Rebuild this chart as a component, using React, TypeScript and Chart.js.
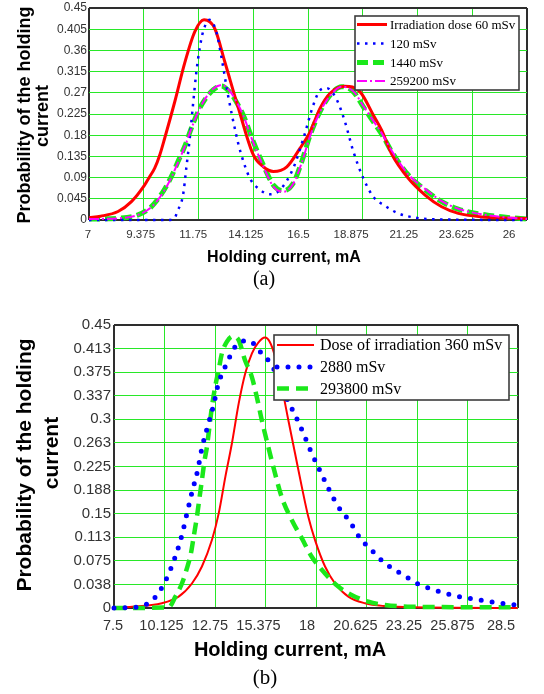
import React, { useEffect, useRef } from 'react';
import { Chart, registerables } from 'chart.js';

Chart.register(...registerables);

const SANS = "'Liberation Sans', Arial, Helvetica, sans-serif";
const SERIF = "'Liberation Serif', 'Times New Roman', serif";
const GRID = 'rgb(40,232,40)';
const FRAME = '#2e2e2e';
const TICK = '#333333';

// ---------------- Chart (a) ----------------
const aXTicks = [7, 9.375, 11.75, 14.125, 16.5, 18.875, 21.25, 23.625, 26];
const aXTickLabels = ['7', '9.375', '11.75', '14.125', '16.5', '18.875', '21.25', '23.625', '26'];
const aYTicks = [0, 0.045, 0.09, 0.135, 0.18, 0.225, 0.27, 0.315, 0.36, 0.405, 0.45];
const aYTickLabels = ['0', '0.045', '0.09', '0.135', '0.18', '0.225', '0.27', '0.315', '0.36', '0.405', '0.45'];
const aLegend = ['Irradiation dose 60 mSv', '120 mSv', '1440 mSv', '259200 mSv'];

const a60X = [7, 7.5, 8.26, 8.84, 9.41, 9.63, 9.85, 10.07, 10.28, 10.72, 11.15, 11.59, 11.99, 12.45, 12.89, 13.46, 14.13, 14.56, 15.0, 15.58, 16.15, 16.59, 17.02, 17.46, 18.1, 18.76, 19.33, 19.7, 20.13, 20.85, 21.58, 22.3, 23.02, 24.18, 25.6, 26];
const a60Y = [0.005, 0.008, 0.018, 0.039, 0.074, 0.092, 0.11, 0.138, 0.173, 0.251, 0.333, 0.4, 0.425, 0.407, 0.336, 0.241, 0.138, 0.113, 0.103, 0.113, 0.152, 0.187, 0.237, 0.269, 0.284, 0.272, 0.223, 0.19, 0.14, 0.0885, 0.053, 0.028, 0.014, 0.006, 0.0035, 0.003];

const a120X = [7, 10.4, 10.7, 10.83, 11.08, 11.22, 11.37, 11.51, 11.66, 11.8, 11.95, 12.23, 12.52, 12.74, 13.03, 13.39, 13.55, 13.98, 14.42, 14.85, 15.29, 15.86, 16.3, 16.73, 17.0, 17.31, 17.75, 18.1, 18.47, 18.9, 19.33, 19.84, 20.42, 21.29, 22.5, 26];
const a120Y = [0, 0, 0.003, 0.018, 0.053, 0.11, 0.173, 0.244, 0.315, 0.364, 0.4, 0.425, 0.4, 0.347, 0.265, 0.18, 0.148, 0.0885, 0.064, 0.0545, 0.064, 0.11, 0.173, 0.244, 0.274, 0.28, 0.255, 0.209, 0.145, 0.0885, 0.0495, 0.03, 0.014, 0.004, 0.001, 0];

const a1440X = [7, 8.4, 9.13, 9.7, 10.21, 10.57, 10.86, 11.15, 11.44, 11.73, 12.02, 12.38, 12.74, 13.1, 13.4, 13.69, 14.13, 14.56, 15.0, 15.43, 15.86, 16.23, 16.59, 17.02, 17.46, 17.96, 18.47, 18.9, 19.41, 19.75, 20.13, 20.85, 21.58, 22.3, 23.02, 24.18, 25.6, 26];
const a1440Y = [0.002, 0.004, 0.011, 0.028, 0.06, 0.092, 0.124, 0.156, 0.195, 0.23, 0.255, 0.276, 0.2845, 0.272, 0.25, 0.223, 0.166, 0.117, 0.074, 0.062, 0.078, 0.124, 0.18, 0.23, 0.265, 0.283, 0.272, 0.24, 0.203, 0.178, 0.145, 0.0955, 0.064, 0.039, 0.023, 0.011, 0.0035, 0.002];

const a259X = [7, 8.4, 9.13, 9.7, 10.21, 10.57, 10.86, 11.15, 11.44, 11.73, 12.02, 12.38, 12.78, 13.1, 13.4, 13.69, 14.13, 14.56, 15.0, 15.45, 15.86, 16.23, 16.59, 17.02, 17.46, 17.96, 18.47, 18.9, 19.41, 19.75, 20.13, 20.85, 21.58, 22.3, 23.02, 24.18, 25.6, 26];
const a259Y = [0.002, 0.004, 0.011, 0.027, 0.058, 0.09, 0.122, 0.155, 0.194, 0.229, 0.256, 0.278, 0.2865, 0.274, 0.251, 0.222, 0.164, 0.114, 0.071, 0.06, 0.077, 0.122, 0.178, 0.229, 0.264, 0.283, 0.273, 0.242, 0.205, 0.18, 0.147, 0.097, 0.066, 0.04, 0.024, 0.011, 0.0035, 0.002];

// ---------------- Chart (b) ----------------
const bXTicks = [7.5, 10.125, 12.75, 15.375, 18, 20.625, 23.25, 25.875, 28.5];
const bXTickLabels = ['7.5', '10.125', '12.75', '15.375', '18', '20.625', '23.25', '25.875', '28.5'];
const bYTicks = [0, 0.0375, 0.075, 0.1125, 0.15, 0.1875, 0.225, 0.2625, 0.3, 0.3375, 0.375, 0.4125, 0.45];
const bYTickLabels = ['0', '0.038', '0.075', '0.113', '0.15', '0.188', '0.225', '0.263', '0.3', '0.337', '0.375', '0.413', '0.45'];
const bLegend = ['Dose of irradiation 360 mSv', '2880 mSv', '293800 mSv'];

const b360X = [7.5, 8.44, 9.99, 10.86, 11.55, 12.07, 12.59, 12.94, 13.29, 13.63, 13.98, 14.32, 14.67, 15.0, 15.35, 15.6, 15.87, 16.22, 16.56, 16.91, 17.26, 17.6, 17.95, 18.47, 18.99, 19.68, 20.55, 21.59, 23.0, 28.5];
const b360Y = [0.001, 0.002, 0.0075, 0.018, 0.039, 0.066, 0.108, 0.15, 0.209, 0.262, 0.325, 0.373, 0.405, 0.422, 0.43, 0.423, 0.4, 0.352, 0.299, 0.246, 0.193, 0.145, 0.108, 0.066, 0.039, 0.018, 0.0075, 0.003, 0.001, 0];

const b2880X = [7.5, 8.5, 8.96, 9.39, 9.77, 10.25, 10.69, 11.03, 11.29, 11.57, 11.85, 12.07, 12.37, 12.68, 12.91, 13.34, 13.8, 14.12, 14.53, 15.09, 15.61, 16.0, 16.48, 16.91, 17.34, 17.72, 18.21, 18.69, 19.16, 19.77, 20.29, 20.89, 21.59, 22.54, 23.32, 24.27, 25.28, 26.31, 27.35, 28.5];
const b2880Y = [0, 0.001, 0.003, 0.01, 0.022, 0.048, 0.082, 0.116, 0.15, 0.186, 0.219, 0.254, 0.289, 0.323, 0.355, 0.3875, 0.4155, 0.4235, 0.425, 0.4075, 0.39, 0.368, 0.333, 0.307, 0.278, 0.25, 0.218, 0.1875, 0.161, 0.137, 0.111, 0.092, 0.071, 0.0525, 0.038, 0.0275, 0.019, 0.0138, 0.0085, 0.0046];

const b293X = [7.5, 10.34, 10.69, 11.03, 11.29, 11.5, 11.64, 11.81, 11.93, 12.07, 12.21, 12.33, 12.42, 12.59, 12.76, 12.94, 13.11, 13.37, 13.67, 13.98, 14.31, 14.66, 14.92, 15.18, 15.52, 15.87, 16.22, 16.74, 17.26, 17.78, 18.47, 19.16, 19.85, 20.72, 21.59, 23.0, 28.5];
const b293Y = [0, 0.001, 0.018, 0.039, 0.063, 0.087, 0.113, 0.145, 0.172, 0.2035, 0.235, 0.256, 0.278, 0.32, 0.352, 0.3785, 0.405, 0.4235, 0.432, 0.426, 0.394, 0.368, 0.336, 0.299, 0.256, 0.214, 0.176, 0.14, 0.111, 0.0815, 0.055, 0.034, 0.0207, 0.01, 0.0048, 0.002, 0.001];

// --------------------------------------------
const pts = (xs: number[], ys: number[]) => xs.map((x, i) => ({ x, y: ys[i] }));

type TextSpec = { text: string; x: number; y: number; font: string; rotate?: boolean; color?: string };
type LegendSpec = {
  left: number; top: number; right: number; bottom: number;
  rows: number[]; sx0: number; sx1: number; tx: number; font: string;
};

function overlay(id: string, texts: TextSpec[], lg: LegendSpec) {
  return {
    id,
    afterDraw(chart: any) {
      const ctx = chart.ctx as CanvasRenderingContext2D;
      ctx.save();
      ctx.fillStyle = '#ffffff';
      ctx.fillRect(lg.left, lg.top, lg.right - lg.left, lg.bottom - lg.top);
      ctx.strokeStyle = '#3c3c3c';
      ctx.lineWidth = 1.6;
      ctx.setLineDash([]);
      ctx.strokeRect(lg.left, lg.top, lg.right - lg.left, lg.bottom - lg.top);
      chart.data.datasets.forEach((ds: any, i: number) => {
        const y = lg.rows[i];
        ctx.save();
        ctx.beginPath();
        ctx.strokeStyle = ds.borderColor;
        ctx.lineWidth = ds.borderWidth;
        ctx.lineCap = ds.borderCapStyle || 'butt';
        ctx.setLineDash(ds.borderDash || []);
        ctx.moveTo(lg.sx0, y);
        ctx.lineTo(lg.sx1, y);
        ctx.stroke();
        ctx.restore();
        ctx.fillStyle = '#000000';
        ctx.font = lg.font;
        ctx.textAlign = 'left';
        ctx.textBaseline = 'middle';
        ctx.fillText(ds.label, lg.tx, y + 1);
      });
      texts.forEach((t) => {
        ctx.save();
        ctx.fillStyle = t.color || '#000000';
        ctx.font = t.font;
        ctx.textAlign = 'center';
        ctx.textBaseline = 'middle';
        ctx.translate(t.x, t.y);
        if (t.rotate) ctx.rotate(-Math.PI / 2);
        ctx.fillText(t.text, 0, 0);
        ctx.restore();
      });
      ctx.restore();
    },
  };
}

function frameGrid(n: number) {
  return {
    drawTicks: false,
    color: (c: any) => (c.index === 0 || c.index === n - 1 ? FRAME : GRID),
    lineWidth: (c: any) => (c.index === 0 || c.index === n - 1 ? 2 : 1),
  };
}

function zeroPad(s: any) {
  s.paddingLeft = 0; s.paddingRight = 0; s.paddingTop = 0; s.paddingBottom = 0;
}

type Cfg = {
  xMin: number; xMax: number; labMin: number; labMax: number;
  xTicks: number[]; xLabels: string[]; yTicks: number[]; yLabels: string[];
  yWidth: number; xHeight: number; pad: any;
  xFont: number; xPad: number; yFont: number; yPad: number;
};

function buildOptions(c: Cfg) {
  return {
    responsive: false,
    animation: false as const,
    devicePixelRatio: 1,
    layout: { padding: c.pad },
    plugins: { legend: { display: false }, tooltip: { enabled: false } },
    elements: { point: { radius: 0 } },
    scales: {
      x: {
        type: 'linear' as const, position: 'bottom' as const, min: c.xMin, max: c.xMax,
        afterBuildTicks: (s: any) => { s.ticks = c.xTicks.map((v) => ({ value: v })); },
        ticks: { display: false },
        grid: frameGrid(c.xTicks.length),
        border: { display: false },
        afterFit: (s: any) => { s.height = 0; zeroPad(s); },
      },
      xl: {
        type: 'linear' as const, position: 'bottom' as const, min: c.labMin, max: c.labMax,
        afterBuildTicks: (s: any) => { s.ticks = c.xTicks.map((v) => ({ value: v })); },
        ticks: {
          callback: (_v: any, i: number) => c.xLabels[i],
          font: { family: SANS, size: c.xFont }, color: TICK, padding: c.xPad,
          autoSkip: false, maxRotation: 0, minRotation: 0,
        },
        grid: { display: false, drawTicks: false },
        border: { display: false },
        afterFit: (s: any) => { s.height = c.xHeight; zeroPad(s); },
      },
      y: {
        type: 'linear' as const, position: 'left' as const, min: 0, max: 0.45,
        afterBuildTicks: (s: any) => { s.ticks = c.yTicks.map((v) => ({ value: v })); },
        ticks: {
          callback: (_v: any, i: number) => c.yLabels[i],
          font: { family: SANS, size: c.yFont }, color: TICK, padding: c.yPad, autoSkip: false,
        },
        grid: frameGrid(c.yTicks.length),
        border: { display: false },
        afterFit: (s: any) => { s.width = c.yWidth; zeroPad(s); },
      },
    },
  };
}

const common = {
  pointRadius: 0, fill: false, cubicInterpolationMode: 'monotone' as const, clip: 8, borderCapStyle: 'butt' as const,
};

export default function App() {
  const refA = useRef<HTMLCanvasElement>(null);
  const refB = useRef<HTMLCanvasElement>(null);

  useEffect(() => {
    const chartA = new Chart(refA.current!, {
      type: 'line',
      data: {
        datasets: [
          { ...common, label: aLegend[0], data: pts(a60X, a60Y), borderColor: '#ff0000', borderWidth: 3, order: 2 },
          { ...common, label: aLegend[1], data: pts(a120X, a120Y), borderColor: '#0000ff', borderWidth: 2.5, borderDash: [2.5, 5.5], order: 1 },
          { ...common, label: aLegend[2], data: pts(a1440X, a1440Y), borderColor: '#1be81b', borderWidth: 5, borderDash: [11, 5], order: 3 },
          { ...common, label: aLegend[3], data: pts(a259X, a259Y), borderColor: '#ff00ff', borderWidth: 2, borderDash: [10, 3, 2, 3], order: 0 },
        ],
      },
      options: buildOptions({
        xMin: 7, xMax: 26, labMin: 7.045, labMax: 26.81,
        xTicks: aXTicks, xLabels: aXTickLabels, yTicks: aYTicks, yLabels: aYTickLabels,
        yWidth: 89, xHeight: 80, pad: { left: 0, top: 8, right: 17, bottom: 0 },
        xFont: 11.5, xPad: 8, yFont: 12, yPad: 2,
      }) as any,
      plugins: [
        overlay('ovA', [
          { text: 'Holding current, mA', x: 284, y: 258, font: `bold 16px ${SANS}` },
          { text: 'Probability of the holding', x: 25, y: 115, font: `bold 18px ${SANS}`, rotate: true },
          { text: 'current', x: 43, y: 116, font: `bold 18px ${SANS}`, rotate: true },
          { text: '(a)', x: 264, y: 280, font: `20px ${SERIF}` },
        ], {
          left: 355, top: 16, right: 519, bottom: 90, rows: [24.5, 43.5, 62.5, 81],
          sx0: 357, sx1: 387, tx: 390, font: `13px ${SERIF}`,
        }),
      ],
    });

    const chartB = new Chart(refB.current!, {
      type: 'line',
      data: {
        datasets: [
          { ...common, label: bLegend[0], data: pts(b360X, b360Y), borderColor: '#ff0000', borderWidth: 2, order: 2 },
          { ...common, label: bLegend[1], data: pts(b2880X, b2880Y), borderColor: '#0000ff', borderWidth: 5, borderDash: [0, 11], borderCapStyle: 'round' as const, order: 0 },
          { ...common, label: bLegend[2], data: pts(b293X, b293Y), borderColor: '#1be81b', borderWidth: 4.5, borderDash: [12, 7], order: 1 },
        ],
      },
      options: buildOptions({
        xMin: 7.5, xMax: 28.5, labMin: 7.554, labMax: 29.42,
        xTicks: bXTicks, xLabels: bXTickLabels, yTicks: bYTicks, yLabels: bYTickLabels,
        yWidth: 114, xHeight: 86, pad: { left: 0, top: 25, right: 26, bottom: 0 },
        xFont: 14.5, xPad: 9, yFont: 15, yPad: 3,
      }) as any,
      plugins: [
        overlay('ovB', [
          { text: 'Holding current, mA', x: 290, y: 350, font: `bold 20px ${SANS}` },
          { text: 'Probability of the holding', x: 25, y: 165, font: `bold 21px ${SANS}`, rotate: true },
          { text: 'current', x: 52, y: 153, font: `bold 21px ${SANS}`, rotate: true },
          { text: '(b)', x: 265, y: 378, font: `21px ${SERIF}` },
        ], {
          left: 274, top: 35, right: 509, bottom: 100, rows: [45, 67, 88.5],
          sx0: 277, sx1: 314, tx: 320, font: `16px ${SERIF}`,
        }),
      ],
    });

    return () => { chartA.destroy(); chartB.destroy(); };
  }, []);

  return (
    <div style={{ position: 'absolute', left: 0, top: 0, width: 544, height: 694, background: '#ffffff' }}>
      <canvas ref={refA} width={544} height={300} style={{ position: 'absolute', left: 0, top: 0 }} />
      <canvas ref={refB} width={544} height={394} style={{ position: 'absolute', left: 0, top: 300 }} />
    </div>
  );
}
